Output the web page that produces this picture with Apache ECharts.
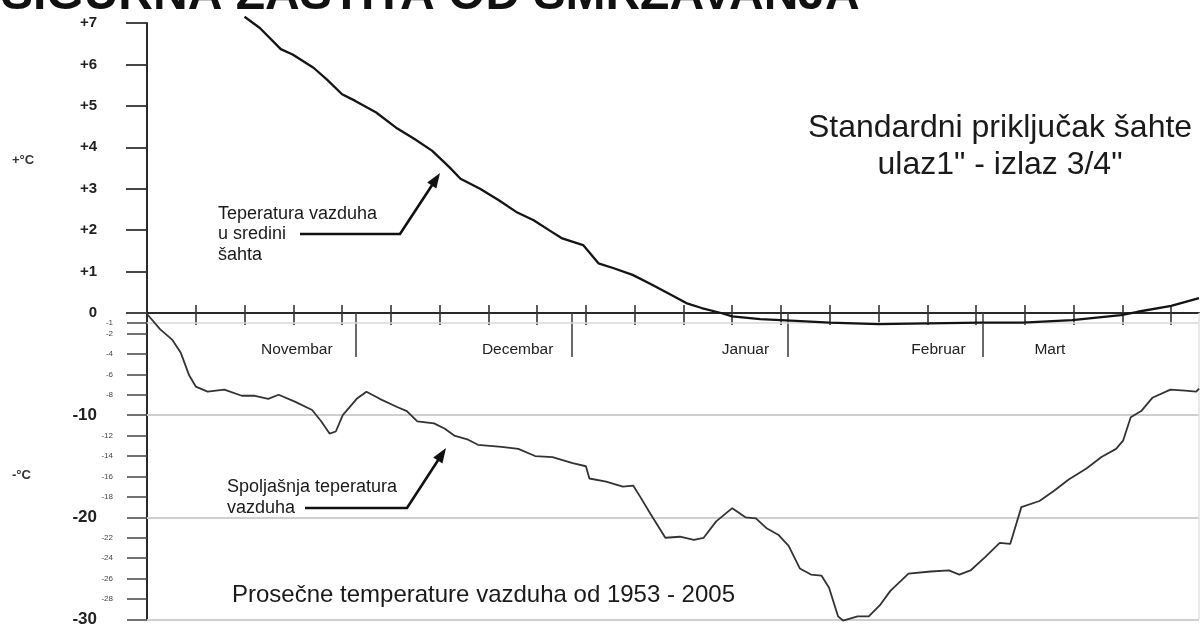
<!DOCTYPE html>
<html>
<head>
<meta charset="utf-8">
<script src="https://cdn.jsdelivr.net/npm/echarts@6/dist/echarts.min.js"></script>
<style>
html,body{margin:0;padding:0;background:#fff;}
#chart{width:1203px;height:628px;}
</style>
</head>
<body>
<div id="chart"></div>
<script>
// ---------- DATA ----------
const months = ['Novembar', 'Decembar', 'Januar', 'Februar', 'Mart'];
const monthStartDays = [30, 61, 92, 120];            // day index (from 1 Nov) of month boundaries
const weekTickDays = [7, 14, 21, 28, 35, 42, 49, 56, 63, 70, 77, 84, 91, 98, 105, 112, 119, 126, 133, 140, 147];
const upperTicks = [0, 1, 2, 3, 4, 5, 6, 7];
const lowerTicks = [-1, -2, -4, -6, -8, -10, -12, -14, -16, -18, -20, -22, -24, -26, -28, -30];
const lowerGuideLines = [-1, -10, -20, -30];

// Air temperature in the middle of the shaft (°C), day = days since 1 Nov
const shaftDays = [14, 16.2, 19.2, 20.9, 23.9, 25.8, 28.0, 29.9, 32.9, 35.7, 38.4, 40.9, 43.4, 45.0, 47.8, 50.5, 53.0, 55.5, 57.7, 59.6, 62.6, 64.8, 67.0, 69.7, 72.5, 75.2, 77.4, 79.6, 82.4, 84.0, 88, 91, 98, 105, 112, 119.8, 125.7, 132.8, 139.8, 142.2, 147, 151];
const shaftTemp = [7.15, 6.88, 6.37, 6.24, 5.92, 5.64, 5.28, 5.12, 4.84, 4.48, 4.20, 3.92, 3.52, 3.24, 3.00, 2.72, 2.44, 2.24, 2.00, 1.80, 1.64, 1.20, 1.08, 0.92, 0.68, 0.44, 0.24, 0.12, 0.0, -0.08, -0.15, -0.17, -0.23, -0.27, -0.25, -0.23, -0.23, -0.17, -0.05, 0.03, 0.17, 0.36];

// Outside air temperature (°C)
const outsideDays = [0, 1.9, 3.6, 4.85, 6.05, 7.0, 8.7, 11.1, 13.6, 15.5, 17.4, 18.9, 21.3, 23.7, 25.0, 26.2, 27.1, 28.1, 30.1, 31.5, 33.4, 35.9, 37.3, 38.8, 41.2, 42.7, 44.1, 46.1, 47.5, 50.9, 53.3, 55.7, 58.2, 61.1, 63.0, 63.5, 65.9, 68.3, 69.8, 70.8, 72.3, 74.4, 76.5, 78.5, 79.9, 81.7, 84.0, 85.9, 87.4, 89.0, 90.6, 92.1, 93.7, 95.3, 96.8, 97.9, 99.2, 99.9, 102.0, 103.6, 105.2, 106.7, 109.3, 112.5, 115.1, 116.6, 118.2, 120.3, 122.4, 123.9, 125.5, 128.1, 130.2, 132.3, 134.9, 137.0, 139.1, 140.1, 141.2, 142.7, 144.3, 146.9, 149.0, 150.6, 151];
const outsideTemp = [-0.1, -1.6, -2.6, -3.9, -6.1, -7.2, -7.7, -7.5, -8.1, -8.1, -8.4, -8.0, -8.7, -9.5, -10.6, -11.8, -11.6, -10.0, -8.4, -7.7, -8.4, -9.2, -9.6, -10.6, -10.8, -11.3, -12.0, -12.4, -12.9, -13.1, -13.3, -14.0, -14.1, -14.7, -15.0, -16.2, -16.5, -17.0, -16.9, -18.0, -19.7, -22.0, -21.9, -22.2, -22.0, -20.4, -19.1, -20.0, -20.1, -21.1, -21.7, -22.8, -25.0, -25.6, -25.7, -26.9, -29.7, -30.1, -29.7, -29.7, -28.6, -27.2, -25.5, -25.3, -25.2, -25.6, -25.2, -23.9, -22.5, -22.6, -19.0, -18.4, -17.4, -16.3, -15.2, -14.1, -13.3, -12.5, -10.2, -9.6, -8.3, -7.5, -7.6, -7.7, -7.4];

// ---------- CHART ----------
const FONT = "'Liberation Sans', Arial, Helvetica, sans-serif";
const monthLabelDays = [21.5, 53.2, 85.9, 113.6, 129.6];  // label anchor positions (layout)

function arrow(points) {
  const n = points.length;
  const tip = points[n - 1], prev = points[n - 2];
  const dx = tip[0] - prev[0], dy = tip[1] - prev[1];
  const len = Math.sqrt(dx * dx + dy * dy);
  const ux = dx / len, uy = dy / len;
  const hl = 15, hw = 5.5;
  const bx = tip[0] - ux * hl, by = tip[1] - uy * hl;
  const shaft = points.slice(0, n - 1).concat([[tip[0] - ux * 8, tip[1] - uy * 8]]);
  return [
    { type: 'polyline', shape: { points: shaft }, style: { stroke: '#111', lineWidth: 2.6, fill: null }, z: 100 },
    { type: 'polygon', shape: { points: [tip, [bx - uy * hw, by + ux * hw], [bx + uy * hw, by - ux * hw]] }, style: { fill: '#111' }, z: 100 }
  ];
}

function txt(x, y, text, size, opts) {
  opts = opts || {};
  return {
    type: 'text', z: 100,
    style: {
      x: x, y: y, text: text,
      font: (opts.weight || 'normal') + ' ' + size + 'px ' + FONT,
      fill: opts.color || '#1a1a1a',
      align: opts.align || 'left', verticalAlign: 'middle'
    }
  };
}

const chart = echarts.init(document.getElementById('chart'), null, { renderer: 'canvas' });

const axisColor = '#2a2a2a';

const option = {
  animation: false,
  backgroundColor: '#ffffff',
  grid: [
    { left: 147, right: 4, top: 23, bottom: 315 },
    { left: 147, right: 4, top: 313, bottom: 3 }
  ],
  xAxis: [
    {
      gridIndex: 0, type: 'value', min: 0, max: 151, position: 'bottom',
      axisLine: { show: true, onZero: false, lineStyle: { color: axisColor, width: 2 } },
      axisTick: { show: true, inside: true, length: 8, customValues: weekTickDays, lineStyle: { color: '#333', width: 1.6 } },
      axisLabel: {
        show: true, customValues: monthLabelDays, margin: 29,
        formatter: function (v) { const i = monthLabelDays.indexOf(v); return i >= 0 ? months[i] : ''; },
        fontSize: 15.5, color: '#222', fontFamily: FONT
      },
      splitLine: { show: false }
    },
    {
      gridIndex: 1, type: 'value', min: 0, max: 151, position: 'top',
      axisLine: { show: false, onZero: false },
      axisTick: { show: true, inside: true, length: 12, customValues: weekTickDays, lineStyle: { color: '#333', width: 1.6 } },
      axisLabel: { show: false }, splitLine: { show: false }
    },
    {
      gridIndex: 1, type: 'value', min: 0, max: 151, position: 'top',
      axisLine: { show: false, onZero: false },
      axisTick: { show: true, inside: true, length: 44, customValues: monthStartDays, lineStyle: { color: '#444', width: 1.6 } },
      axisLabel: { show: false }, splitLine: { show: false }
    }
  ],
  yAxis: [
    {
      gridIndex: 0, type: 'value', min: 0, max: 7,
      axisLine: { show: true, onZero: false, lineStyle: { color: axisColor, width: 2 } },
      axisTick: { show: true, length: 21, customValues: upperTicks, lineStyle: { color: '#333', width: 1.8 } },
      axisLabel: {
        customValues: upperTicks, margin: 50,
        formatter: function (v) { return v > 0 ? '+' + v : String(v); },
        fontSize: 15, fontWeight: 'bold', color: '#222', fontFamily: FONT
      },
      splitLine: { show: false }
    },
    {
      gridIndex: 1, type: 'value', min: -30, max: 0,
      axisLine: { show: true, onZero: false, lineStyle: { color: axisColor, width: 2 } },
      axisTick: { show: true, length: 20, customValues: lowerTicks, lineStyle: { color: '#444', width: 1.5 } },
      axisLabel: {
        customValues: lowerTicks, margin: 34,
        formatter: function (v) { return (v % 10 === 0 ? '{b|' : '{s|') + v + '}'; },
        rich: {
          b: { fontSize: 17, fontWeight: 'bold', color: '#222', fontFamily: FONT, padding: [0, 16, 0, 0] },
          s: { fontSize: 8, color: '#444', fontFamily: FONT }
        }
      },
      splitLine: { show: false }
    }
  ],
  series: [
    {
      name: 'Teperatura vazduha u sredini šahta',
      type: 'line', xAxisIndex: 0, yAxisIndex: 0,
      data: shaftDays.map(function (d, i) { return [d, shaftTemp[i]]; }),
      showSymbol: false, symbol: 'none', clip: false, z: 5,
      lineStyle: { color: '#141414', width: 2.3 }
    },
    {
      name: 'Spoljašnja teperatura vazduha',
      type: 'line', xAxisIndex: 1, yAxisIndex: 1,
      data: outsideDays.map(function (d, i) { return [d, outsideTemp[i]]; }),
      showSymbol: false, symbol: 'none', clip: false, z: 5,
      lineStyle: { color: '#333', width: 1.8 },
      markLine: {
        silent: true, symbol: ['none', 'none'], label: { show: false }, animation: false,
        lineStyle: { color: '#cfcfcf', width: 2, type: 'solid' },
        data: lowerGuideLines.map(function (v) {
          return v === -1 ? { yAxis: v, lineStyle: { color: '#d8d8d8', width: 1.5 } } : { yAxis: v };
        }).concat([{ xAxis: 151, lineStyle: { color: '#e2e2e2', width: 1.5 } }])
      }
    }
  ],
  graphic: [
    txt(1, -4, 'SIGURNA ZAŠTITA OD SMRZAVANJA', 48, { weight: 'bold', color: '#111' }),
    txt(12, 160, '+°C', 13, { weight: 'bold', color: '#333' }),
    txt(12, 475, '-°C', 13, { weight: 'bold', color: '#333' }),
    txt(1000, 128, 'Standardni priključak šahte', 32, { align: 'center' }),
    txt(1000, 165, 'ulaz1" - izlaz 3/4"', 32, { align: 'center' }),
    txt(218, 214, 'Teperatura vazduha', 18),
    txt(218, 234, 'u sredini', 18),
    txt(218, 255, 'šahta', 18),
    txt(227, 487, 'Spoljašnja teperatura', 18),
    txt(227, 508, 'vazduha', 18),
    txt(232, 595, 'Prosečne temperature vazduha od 1953 - 2005', 24)
  ].concat(arrow([[300, 234], [400, 234], [440, 173]]))
   .concat(arrow([[305, 508], [407, 508], [446, 448]]))
};

chart.setOption(option);
</script>
</body>
</html>
